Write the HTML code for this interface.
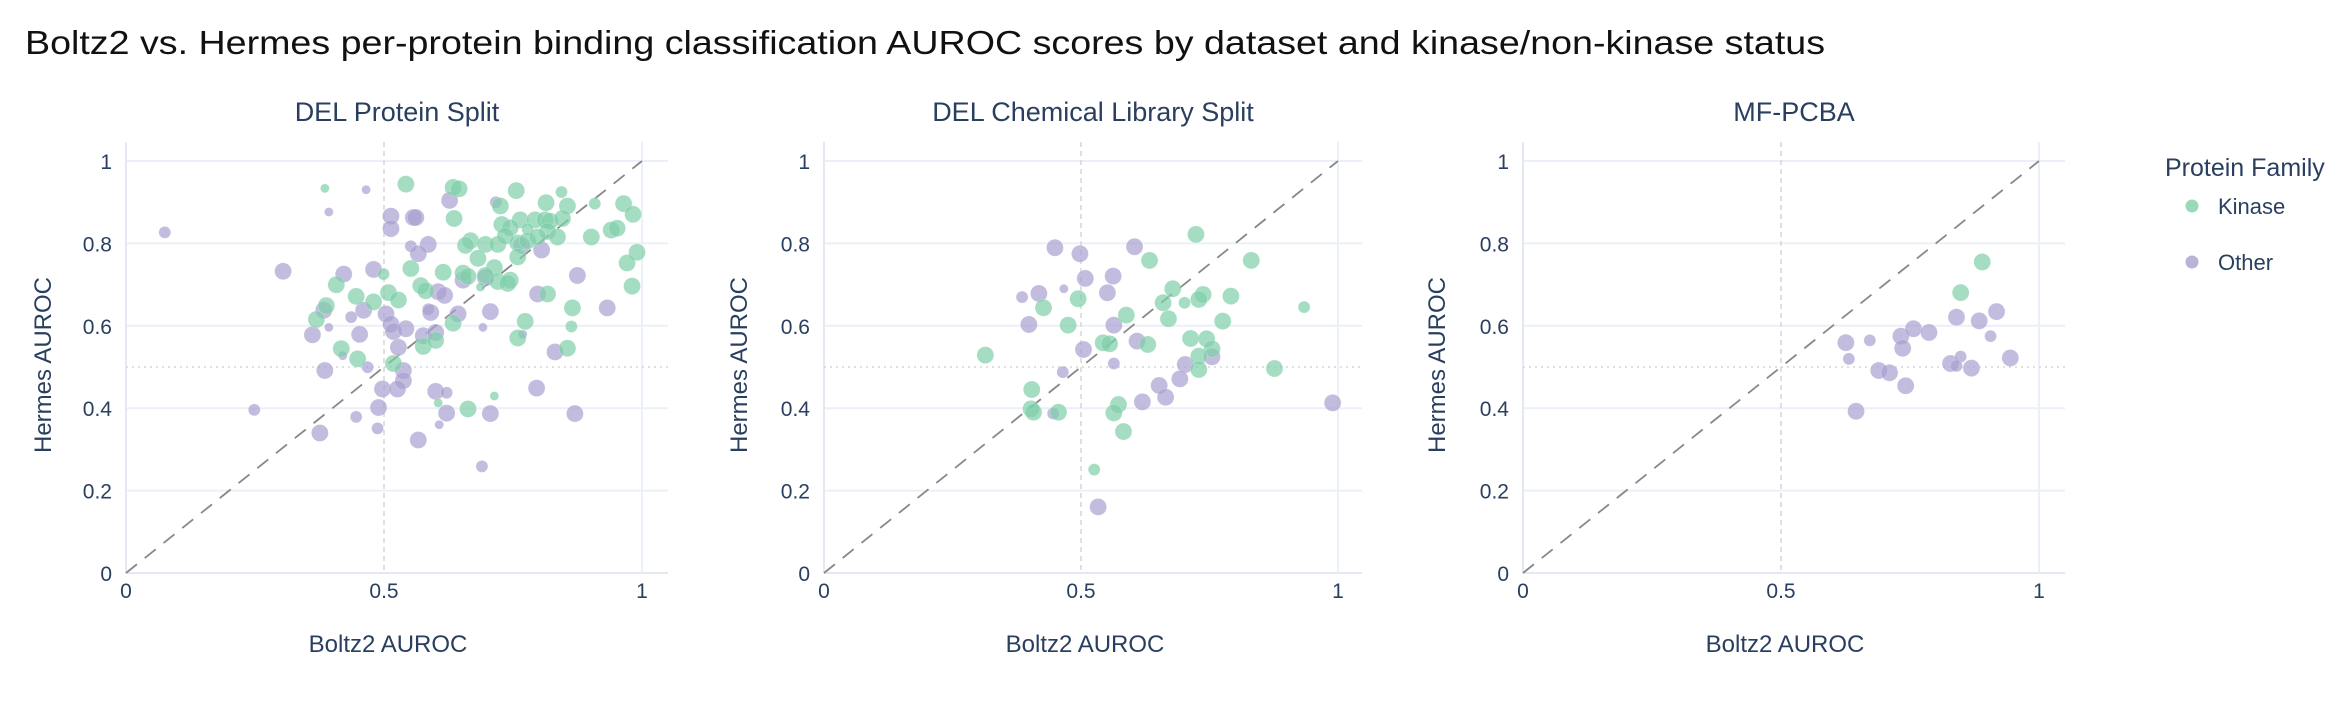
<!DOCTYPE html>
<html><head><meta charset="utf-8"><style>
html,body{margin:0;padding:0;background:#fff;}
svg{display:block;}
</style></head><body>
<svg id="s" width="2338" height="728" xmlns="http://www.w3.org/2000/svg" font-family="Liberation Sans, sans-serif">
<text x="25" y="54" font-size="33" fill="#111" font-weight="500" textLength="1800" lengthAdjust="spacingAndGlyphs">Boltz2 vs. Hermes per-protein binding classification AUROC scores by dataset and kinase/non-kinase status</text>
<text x="2165" y="176" font-size="25" fill="#2a3f5f">Protein Family</text>
<circle cx="2192" cy="206" r="6.5" fill="#7fcfa8" opacity="0.8"/>
<text x="2218" y="214" font-size="22" fill="#2a3f5f">Kinase</text>
<circle cx="2192" cy="262" r="6.5" fill="#a89fd0" opacity="0.8"/>
<text x="2218" y="270" font-size="22" fill="#2a3f5f">Other</text>
</svg>
<script>
const S=document.getElementById('s');const NS='http://www.w3.org/2000/svg';
function el(t,a,txt){const e=document.createElementNS(NS,t);for(const k in a)e.setAttribute(k,a[k]);if(txt!==undefined)e.textContent=txt;S.appendChild(e);return e;}
const R={s:4.5,m:6,l:8.5};
const panels=[
{x0:126,x1:642,right:668,title:'DEL Protein Split',yl:43,
 cal:[252,1038,1237,889],
 g:[[652,407,'s'],[815,398,'l'],[910,405,'l'],[922,408,'l'],[1037,412,'l'],[1128,415,'m'],[1097,438,'l'],[1005,445,'l'],[1140,445,'l'],[1195,440,'m'],[1253,440,'l'],[1272,463,'l'],[912,472,'l'],[1045,475,'l'],[1075,475,'l'],[1095,475,'l'],[1105,478,'l'],[1130,472,'l'],[1008,485,'l'],[1025,492,'l'],[1060,495,'m'],[1100,500,'l'],[1120,512,'l'],[1188,512,'l'],[1228,497,'l'],[1240,493,'l'],[1280,545,'l'],[1260,568,'l'],[1270,618,'l'],[945,520,'l'],[935,530,'l'],[975,528,'l'],[1000,528,'l'],[1015,510,'l'],[1040,525,'l'],[1060,520,'l'],[1080,512,'l'],[960,558,'l'],[993,578,'l'],[1040,555,'l'],[770,592,'m'],[825,580,'l'],[890,588,'l'],[930,590,'l'],[940,597,'l'],[975,595,'l'],[1000,608,'l'],[1025,605,'l'],[1020,612,'l'],[1100,635,'l'],[845,617,'l'],[855,628,'l'],[780,632,'l'],[800,648,'l'],[715,640,'l'],[750,652,'l'],[655,660,'l'],[635,690,'l'],[675,615,'l'],[910,698,'l'],[1150,665,'l'],[1148,705,'m'],[1055,694,'l'],[1040,730,'l'],[685,753,'l'],[718,775,'l'],[790,785,'l'],[850,748,'l'],[875,735,'l'],[1140,752,'l'],[940,883,'l'],[880,870,'s'],[993,855,'s'],[965,620,'s']],
 p:[[330,502,'m'],[568,586,'l'],[690,592,'l'],[750,582,'l'],[735,410,'s'],[660,458,'s'],[903,433,'l'],[996,437,'m'],[785,467,'l'],[785,494,'l'],[830,470,'l'],[835,470,'l'],[860,528,'l'],[825,532,'m'],[840,548,'l'],[1088,540,'l'],[1048,530,'l'],[1160,595,'l'],[930,605,'l'],[975,600,'l'],[880,630,'l'],[893,638,'l'],[1080,635,'l'],[1220,665,'l'],[985,673,'l'],[920,678,'l'],[860,668,'m'],[865,675,'l'],[730,670,'l'],[705,685,'m'],[650,670,'l'],[775,678,'l'],[785,700,'l'],[790,716,'l'],[815,710,'l'],[850,725,'l'],[875,718,'l'],[627,723,'l'],[722,722,'l'],[660,707,'s'],[970,707,'s'],[1050,722,'s'],[800,750,'l'],[688,768,'s'],[1115,760,'l'],[738,793,'m'],[652,800,'l'],[810,800,'l'],[810,822,'l'],[768,840,'l'],[798,840,'l'],[875,845,'l'],[897,848,'m'],[1078,838,'l'],[760,880,'l'],[897,892,'l'],[985,893,'l'],[1155,893,'l'],[510,885,'m'],[715,900,'m'],[758,925,'m'],[882,917,'s'],[642,935,'l'],[840,950,'l'],[968,1007,'m']]},
{x0:824,x1:1338,right:1362,title:'DEL Chemical Library Split',yl:739,
 cal:[68,1440,1300,1235],
 p:[[715,325,'l'],[785,343,'l'],[938,322,'l'],[800,417,'l'],[878,410,'l'],[740,448,'s'],[623,473,'m'],[670,462,'l'],[862,460,'l'],[642,555,'l'],[880,557,'l'],[945,605,'l'],[795,630,'l'],[880,672,'m'],[737,698,'m'],[1080,675,'l'],[1155,652,'l'],[1065,718,'l'],[1007,738,'l'],[1025,773,'l'],[960,787,'l'],[710,822,'m'],[1493,790,'l'],[836,1102,'l']],
 g:[[1110,285,'l'],[980,363,'l'],[1265,363,'l'],[780,478,'l'],[683,505,'l'],[1045,448,'l'],[1130,465,'l'],[1118,480,'l'],[1208,470,'l'],[1078,490,'m'],[1018,490,'l'],[1033,538,'l'],[915,527,'l'],[752,557,'l'],[1185,545,'l'],[1413,503,'m'],[850,610,'l'],[868,613,'l'],[975,615,'l'],[1095,597,'l'],[1140,598,'l'],[1155,628,'l'],[1118,650,'l'],[1118,690,'l'],[1330,687,'l'],[520,647,'l'],[650,750,'l'],[648,808,'l'],[655,818,'l'],[725,818,'l'],[893,795,'l'],[880,820,'l'],[907,876,'l'],[825,990,'m']]},
{x0:1523,x1:2039,right:2065,title:'MF-PCBA',yl:1437,
 cal:[205,863,1237,889],
 g:[[973,566,'l'],[937,632,'l']],
 p:[[930,685,'l'],[968,693,'l'],[997,673,'l'],[987,726,'m'],[745,740,'l'],[785,735,'m'],[837,726,'l'],[858,710,'l'],[884,718,'l'],[840,752,'l'],[750,775,'m'],[920,785,'l'],[937,770,'m'],[930,790,'m'],[955,795,'l'],[1020,773,'l'],[800,800,'l'],[818,805,'l'],[845,833,'l'],[762,888,'l']]}
];
const Y0=573,Y1=161,TOP=142;
const tc='#2a3f5f',gc='#ebf0f8';
for(const P of panels){
 const X=v=>P.x0+(P.x1-P.x0)*v, Y=v=>Y0-(Y0-Y1)*v;
 for(let i=0;i<=5;i++){el('line',{x1:P.x0,x2:P.right,y1:Y(i*0.2),y2:Y(i*0.2),stroke:i==0?'#e3e8f1':gc,'stroke-width':2});
  el('text',{x:P.x0-14,y:Y(i*0.2)+8,'font-size':21,fill:tc,'text-anchor':'end'},i==0?'0':i==5?'1':(i*0.2).toFixed(1));}
 for(const v of [0,1]) el('line',{x1:X(v),x2:X(v),y1:TOP,y2:Y0,stroke:v==0?'#e3e8f1':gc,'stroke-width':2});
 [['0',0],['0.5',0.5],['1',1]].forEach(([t,v])=>el('text',{x:X(v),y:598,'font-size':21,fill:tc,'text-anchor':'middle'},t));
 el('line',{x1:X(0.5),x2:X(0.5),y1:TOP,y2:Y0,stroke:'#d5d5d5','stroke-width':1.5,'stroke-dasharray':'5,4'});
 el('line',{x1:P.x0,x2:P.right,y1:Y(0.5),y2:Y(0.5),stroke:'#d5d5d5','stroke-width':1.5,'stroke-dasharray':'2,4'});
 el('line',{x1:X(0),y1:Y(0),x2:X(1),y2:Y(1),stroke:'#888','stroke-width':1.8,'stroke-dasharray':'14,10'});
 const c=P.cal;
 const dot=(a,col)=>{for(const [zx,zy,s] of a){el('circle',{cx:X((zx-c[0])/c[1]),cy:Y((c[2]-zy)/c[3]),r:R[s],fill:col,'fill-opacity':0.7,stroke:'#fff','stroke-opacity':0.4,'stroke-width':0.5});}};
 dot(P.p,'#a89fd0');dot(P.g,'#7fcfa8');
 el('text',{x:(P.x0+P.right)/2,y:121,'font-size':27,fill:tc,'text-anchor':'middle'},P.title);
 el('text',{x:(P.x0+P.x1)/2+4,y:652,'font-size':24,fill:tc,'text-anchor':'middle'},'Boltz2 AUROC');
 el('text',{x:P.yl,y:365,'font-size':24,fill:tc,'text-anchor':'middle',transform:`rotate(-90 ${P.yl} 365)`,dy:8},'Hermes AUROC');
}
</script>
</body></html>
